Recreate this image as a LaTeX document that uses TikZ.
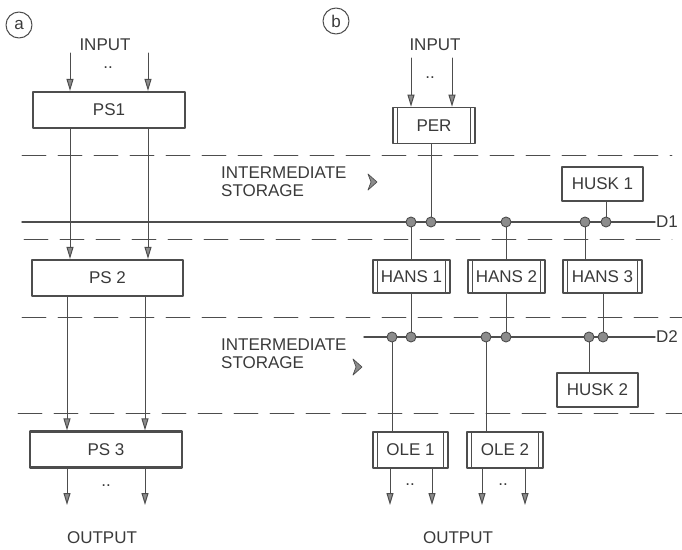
\documentclass[tikz,border=0pt]{standalone}
\usepackage{fontspec}
\setmainfont{Liberation Sans}
\usepackage{xcolor}
\usepackage{tikz}
\usetikzlibrary{arrows.meta,positioning}
\definecolor{stInk}{HTML}{3A3A3A}
\definecolor{stLine}{HTML}{4D4D4D}
\definecolor{stTap}{HTML}{8C8C8C}
\tikzset{
  st diagram/.style={x=1pt, y=-1pt, font=\fontsize{17}{18}\selectfont,
    text=stInk, line cap=round, line join=round},
  st box/.style={draw=stLine, line width=2.2pt, fill=white,
    minimum height=36pt, inner sep=0pt},
  st proc/.style={st box, line width=1.6pt, path picture={
      \draw[stLine, line width=1pt]
        ([xshift=4.5pt]path picture bounding box.north west) --
        ([xshift=4.5pt]path picture bounding box.south west);
      \draw[stLine, line width=1pt]
        ([xshift=-4.5pt]path picture bounding box.north east) --
        ([xshift=-4.5pt]path picture bounding box.south east);}},
  st store/.style={st box, line width=1.8pt},
  st arrow/.style={-{Triangle[length=12pt,width=7pt,line width=1pt,fill=stTap]}, draw=stLine, line width=1pt},
  st line/.style={draw=stLine, line width=1pt},
  st bus/.style={draw=stLine, line width=1.4pt},
  st sep/.style={draw=stLine, line width=0.9pt, dash pattern=on 24pt off 12pt},
  st tap/.style={circle, draw=stLine, fill=stTap, line width=0.9pt,
    minimum size=10pt, inner sep=0pt},
  st label/.style={inner sep=1pt},
  st mark/.style={fill=stTap, draw=stLine, line width=0.7pt},
  st letter/.style={circle, draw=stLine, line width=1pt, minimum size=26pt, inner sep=0pt}
}

\begin{document}
\begin{tikzpicture}[st diagram]
\useasboundingbox (0,0) rectangle (682,549);
% storage boundaries
\draw[st sep] (22,155) -- (672,155);
\draw[st sep] (24,239) -- (672,239);
\draw[st sep] (22,317) -- (682,317);
\draw[st sep] (18,413) -- (682,413);
% (a) chain of processing stages
\node[st letter] (la) at (19,25) {a};
\node[st label] (inA) at (105,45) {INPUT};
\node[st label] at (108,68) {..};
\node[st box, minimum width=152pt] (ps1) at (109,110) {PS1};
\node[st box, minimum width=151pt] (ps2) at (107.5,278) {PS 2};
\node[st box, minimum width=152pt] (ps3) at (106,449.5) {PS 3};
\coordinate (inA1) at (70,53);
\coordinate (inA2) at (148,53);
\coordinate (outA1) at (67,505);
\coordinate (outA2) at (145,505);
\draw[st arrow] (inA1) -- (inA1 |- ps1.north);
\draw[st arrow] (inA2) -- (inA2 |- ps1.north);
\draw[st arrow] (ps1.south -| inA1) -- (ps2.north -| inA1);
\draw[st arrow] (ps1.south -| inA2) -- (ps2.north -| inA2);
\draw[st arrow] (ps2.south -| outA1) -- (ps3.north -| outA1);
\draw[st arrow] (ps2.south -| outA2) -- (ps3.north -| outA2);
\draw[st arrow] (ps3.south -| outA1) -- (outA1);
\draw[st arrow] (ps3.south -| outA2) -- (outA2);
\node[st label] at (106,486) {..};
\node[st label] (outA) at (102,538) {OUTPUT};
% intermediate storage
\node[st label, anchor=west, align=left] (st1) at (220,182) {INTERMEDIATE\\STORAGE};
\node[st label, anchor=west, align=left] (st2) at (220,354) {INTERMEDIATE\\STORAGE};
\foreach \p in {(372,182),(357,367)}
  \draw[st mark] \p ++(-4,-8) -- ++(9,8) -- ++(-9,8) -- ++(3,-8) -- cycle;
% (b) data lines D1 and D2
\node[st letter] (lb) at (336,21) {b};
\node[st label, anchor=west] (d1) at (655,222) {D1};
\node[st label, anchor=west] (d2) at (655,337) {D2};
\coordinate (d1w) at (22,222);
\coordinate (d2w) at (364,337);
\draw[st bus] (d1w) -- (d1.west);
\draw[st bus] (d2w) -- (d2.west);
\node[st tap] (t1a) at (411,222) {};
\node[st tap] (t1b) at (431,222) {};
\node[st tap] (t1c) at (506,222) {};
\node[st tap] (t1d) at (585,222) {};
\node[st tap] (t1e) at (606,222) {};
\node[st tap] (t2a) at (392,337) {};
\node[st tap] (t2b) at (411,337) {};
\node[st tap] (t2c) at (486,337) {};
\node[st tap] (t2d) at (506,337) {};
\node[st tap] (t2e) at (589,337) {};
\node[st tap] (t2f) at (603,337) {};
% processes
\node[st label] (inB) at (435,45) {INPUT};
\node[st label] at (430,78) {..};
\node[st proc, minimum width=82pt] (per) at (434,125.5) {PER};
\node[st store, minimum width=81pt, minimum height=34pt] (husk1) at (602.5,184) {HUSK 1};
\node[st proc, minimum width=77pt, minimum height=33pt] (hans1) at (411.5,276.5) {HANS 1};
\node[st proc, minimum width=77pt, minimum height=33pt] (hans2) at (506.5,276.5) {HANS 2};
\node[st proc, minimum width=79pt, minimum height=33pt] (hans3) at (602.5,276.5) {HANS 3};
\node[st store, minimum width=81pt, minimum height=34pt] (husk2) at (597.5,390) {HUSK 2};
\node[st proc, minimum width=75pt] (ole1) at (410.5,450) {OLE 1};
\node[st proc, minimum width=76pt] (ole2) at (505,450) {OLE 2};
\coordinate (inB1) at (411,58);
\coordinate (inB2) at (452,58);
\draw[st arrow] (inB1) -- (inB1 |- per.north);
\draw[st arrow] (inB2) -- (inB2 |- per.north);
\draw[st line] (per.south -| t1b) -- (t1b);
\draw[st line] (husk1.south -| t1e) -- (t1e);
\draw[st line] (t1a) -- (t1a |- hans1.north);
\draw[st line] (t1c) -- (t1c |- hans2.north);
\draw[st line] (t1d) -- (t1d |- hans3.north);
\draw[st line] (hans1.south -| t2b) -- (t2b);
\draw[st line] (hans2.south -| t2d) -- (t2d);
\draw[st line] (hans3.south -| t2f) -- (t2f);
\draw[st line] (t2e) -- (t2e |- husk2.north);
\draw[st line] (t2a) -- (t2a |- ole1.north);
\draw[st line] (t2c) -- (t2c |- ole2.north);
\coordinate (outB1) at (390,505);
\coordinate (outB2) at (432,505);
\coordinate (outB3) at (482,505);
\coordinate (outB4) at (525,505);
\draw[st arrow] (ole1.south -| outB1) -- (outB1);
\draw[st arrow] (ole1.south -| outB2) -- (outB2);
\draw[st arrow] (ole2.south -| outB3) -- (outB3);
\draw[st arrow] (ole2.south -| outB4) -- (outB4);
\node[st label] at (410,485) {..};
\node[st label] at (503,485) {..};
\node[st label] (outB) at (458,538) {OUTPUT};
\end{tikzpicture}
\end{document}
